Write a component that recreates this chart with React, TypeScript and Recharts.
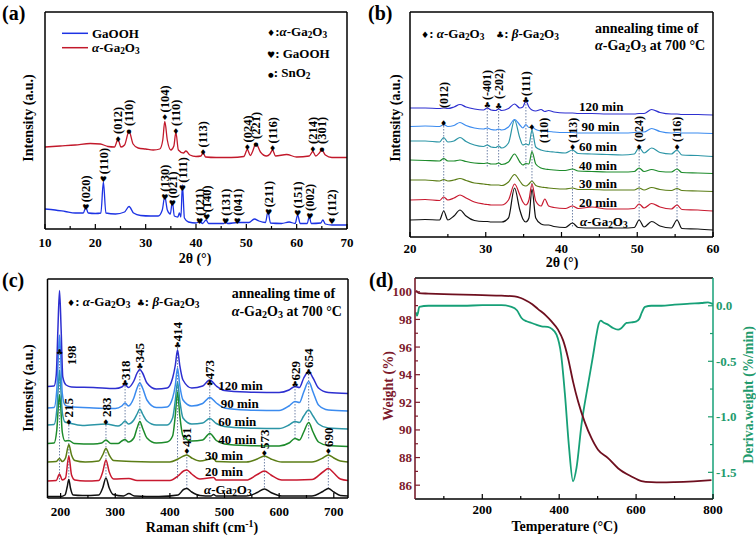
import React from 'react';
import { ComposedChart, Line, XAxis, YAxis, Scatter, ReferenceLine } from 'recharts';

const FONT = '"Liberation Serif", "Times New Roman", Times, serif';
const SYMFONT = '"DejaVu Sans", sans-serif';
const W = 756;
const H = 536;

type P = [number, number];
const pts = (a: P[]) => a.map(([x, y]) => ({ x, y }));
const zipXY = (xs: number[], ys: number[]) => xs.map((x, i) => ({ x, y: ys[i] }));

// ---------------- Panel (a): XRD GaOOH / alpha-Ga2O3 ----------------
const aTicks = [10, 15, 20, 25, 30, 35, 40, 45, 50, 55, 60, 65, 70];
const aLabeled = [10, 20, 30, 40, 50, 60, 70];
const aAlpha: P[] = [
  [10, 82], [13, 83], [16, 84], [19, 85.5], [21, 85], [22.5, 82.5], [23.8, 82], [24.5, 89.5], [25.1, 82],
  [25.8, 84], [26.7, 97.5], [27.5, 85], [28.5, 81], [30, 80], [31.5, 79], [32.8, 80], [33.4, 89], [33.8, 107.5],
  [34.3, 89], [35.0, 79], [35.6, 83], [36.0, 96.5], [36.5, 79], [37.5, 76], [38, 78], [38.8, 74], [40, 72.5],
  [41, 73], [41.4, 76.5], [41.9, 72], [44, 71.5], [47, 71.5], [49.5, 72.5], [50.2, 79.5], [50.8, 73.5], [51.2, 77],
  [51.9, 85.5], [52.8, 77], [54, 73], [54.7, 75], [55.2, 79], [55.8, 73], [58, 74.5], [60, 72], [62.5, 73],
  [63.2, 77.5], [63.8, 73], [64.5, 76], [65.0, 79], [65.7, 74], [67, 71.5], [70, 71.5],
];
const aGaOOH: P[] = [
  [10, 20], [12, 19], [14, 17.5], [16, 16], [17.6, 16], [18.1, 21.5], [18.6, 16], [20, 15.5], [21.1, 16], [21.6, 47],
  [22.1, 16], [24, 15], [25.8, 17], [26.7, 22.5], [27.6, 16], [29, 13.5], [31, 13], [32.5, 13], [33.3, 19], [33.8, 32.5],
  [34.3, 19], [34.9, 15], [35.3, 27.5], [35.7, 13], [36.4, 12], [36.7, 16], [37.0, 12], [37.3, 44], [37.7, 11],
  [38.5, 7], [40, 6], [40.8, 7.5], [41.3, 5.5], [42.0, 9], [42.5, 5.5], [45.5, 5.5], [45.9, 7], [46.3, 5.5],
  [48.3, 6.5], [50.5, 6.5], [51.6, 10], [52.5, 8], [53.8, 6.5], [54.3, 17.5], [54.8, 6], [57, 5.5], [58.5, 7],
  [59.7, 5.5], [60.2, 14], [60.7, 5.5], [62.1, 5.5], [62.5, 12.5], [62.9, 5.5], [64.8, 6], [65.2, 9], [65.7, 5],
  [67, 4], [70, 4],
];
const aPeaks = [
  { x: 24.5, y: 90, s: '♦', t: '(012)', ly: 95 },
  { x: 26.7, y: 98, s: '●', t: '(110)', ly: 103 },
  { x: 33.8, y: 111.5, s: '♦', t: '(104)', ly: 116.5 },
  { x: 36.0, y: 98, s: '♦', t: '(110)', ly: 103 },
  { x: 41.4, y: 76.5, s: '♦', t: '(113)', ly: 81.5 },
  { x: 50.2, y: 81.5, s: '♦', t: '(024)', ly: 86.5 },
  { x: 51.9, y: 85, s: '●', t: '(221)', ly: 90 },
  { x: 55.2, y: 80.5, s: '♦', t: '(116)', ly: 85.5 },
  { x: 63.2, y: 80, s: '♦', t: '(214)', ly: 85 },
  { x: 65.0, y: 80, s: '●', t: '(301)', ly: 85 },
  { x: 18.1, y: 21.7, s: '♥', t: '(020)', ly: 26.7 },
  { x: 21.6, y: 49.7, s: '♥', t: '(110)', ly: 54.7 },
  { x: 33.8, y: 32.3, s: '♥', t: '(130)', ly: 37.3 },
  { x: 35.3, y: 25.7, s: '♥', t: '(021)', ly: 30.7 },
  { x: 37.3, y: 41.3, s: '♥', t: '(111)', ly: 46.3 },
  { x: 40.7, y: 8.3, s: '♥', t: '(121)', ly: 13.3 },
  { x: 42.1, y: 11.7, s: '♥', t: '(140)', ly: 16.7 },
  { x: 45.9, y: 8.3, s: '♥', t: '(131)', ly: 13.3 },
  { x: 48.2, y: 8.3, s: '♥', t: '(041)', ly: 13.3 },
  { x: 54.4, y: 16.7, s: '♥', t: '(211)', ly: 21.7 },
  { x: 60.2, y: 15.7, s: '♥', t: '(151)', ly: 20.7 },
  { x: 62.6, y: 13, s: '♥', t: '(002)', ly: 18 },
  { x: 67.0, y: 8.3, s: '♥', t: '(112)', ly: 13.3 },
];

// ---------------- Panel (b): XRD vs annealing time ----------------
const bTicks = [20, 25, 30, 35, 40, 45, 50, 55, 60];
const bLabeled = [20, 30, 40, 50, 60];
const bX = [20, 22, 23.9, 24.45, 25.0, 25.8, 26.6, 27.4, 28.5, 29.7, 30.2, 30.7, 31.3, 31.7, 32.1, 33.0, 33.8, 34.5,
  34.9, 35.3, 35.7, 36.1, 36.6, 37.3, 37.8, 38.3, 39.0, 40.5, 41.45, 42.2, 44, 46, 48, 49.6, 50.25, 50.9, 51.9, 53.0,
  54.5, 55.25, 55.9, 58, 60];
const bAlpha = [17, 17.5, 17, 26, 17, 21, 27, 21, 16.5, 15.5, 15.5, 15, 15, 15, 15, 19, 49, 27, 18, 15, 19, 48, 19, 13,
  12, 12, 10.5, 9.5, 14, 9.5, 9, 9, 9, 9.5, 17, 10, 15.5, 11, 9, 17, 8.5, 8, 7];
const b20 = [37, 37.5, 36.5, 40, 37, 39, 42, 39, 35, 33, 32.5, 32, 32, 32, 32, 37, 53, 42, 35, 32, 37, 53, 36, 31, 38,
  31, 29.5, 28.5, 31, 28.5, 30, 28, 28, 28.5, 33, 29, 33.5, 30, 28, 32, 27.5, 27, 26];
const b30 = [57, 57, 56, 57.5, 56, 57, 58.5, 56.5, 54, 53, 52.5, 52, 52, 52, 51.5, 55, 62.5, 56, 52, 51, 53, 56, 51.5,
  50, 49.5, 49, 48.5, 48, 49, 47.5, 47.5, 47, 47, 47, 49, 47, 49.5, 47.5, 46.5, 48.5, 46.5, 46, 45.5];
const b40 = [77, 76.5, 76, 78.5, 76, 76, 77, 75.5, 74, 73.5, 74, 73, 73, 74, 72.5, 75, 83, 75, 72, 73.5, 73, 85.5, 73,
  69, 68, 67.5, 67, 66.5, 68, 66, 65.5, 65, 65, 65.5, 69, 65.5, 67.5, 65.5, 65, 68, 64.5, 64, 63.5];
const b60 = [96, 96, 95, 99.5, 95, 96, 99.5, 95.5, 92, 90.5, 92, 90, 89.5, 91, 89, 94, 117, 99, 92, 93, 92, 107, 90, 87,
  86, 85.5, 85, 84, 87, 83.5, 83, 82.5, 82, 83, 89.5, 84, 89, 84.5, 83, 87, 82, 81.5, 80.5];
const b90 = [110.5, 111, 110.5, 112.5, 110.5, 111.5, 114.5, 111.5, 109, 108, 109, 107.5, 107, 108, 107, 110, 117.5, 112,
  109, 112.5, 109.5, 110, 107.5, 106, 105.5, 105.5, 105, 104.5, 104.5, 104, 104, 104, 104, 104.5, 105, 105, 108.5,
  105.5, 104, 104.5, 104, 104, 103.5];
const b120 = [129, 129, 128.5, 129, 128.5, 130, 132.5, 130, 128, 127, 129, 127, 126.5, 128, 126.5, 128.5, 133, 129, 130,
  136, 130, 127, 126, 127.5, 125.5, 126.5, 125, 124, 124, 123.5, 123.5, 123, 123, 123, 123.5, 123.5, 127.5, 124.5, 123,
  123, 122.5, 122.5, 122];
const bSeries = [
  { name: 'α-Ga2O3', ys: bAlpha, color: '#111111' },
  { name: '20 min', ys: b20, color: '#c8192f' },
  { name: '30 min', ys: b30, color: '#5b7d16' },
  { name: '40 min', ys: b40, color: '#1d8b2b' },
  { name: '60 min', ys: b60, color: '#2b95a6' },
  { name: '90 min', ys: b90, color: '#3b8bef' },
  { name: '120 min', ys: b120, color: '#2d2fd0' },
];
const bPeaks = [
  { x: 24.45, y: 114, s: '♦', t: '(012)', ly: 129 },
  { x: 30.2, y: 132, s: '♣', t: '(-401)', ly: 137 },
  { x: 31.7, y: 131.3, s: '♣', t: '(-202)', ly: 138 },
  { x: 35.3, y: 137, s: '♣', t: '(111)', ly: 141 },
  { x: 36.1, y: 110.3, s: '♦', t: '(110)', lx: 37.6, ly: 94 },
  { x: 41.45, y: 90, s: '♦', t: '(113)', ly: 94 },
  { x: 50.25, y: 90.3, s: '♦', t: '(024)', ly: 95 },
  { x: 55.25, y: 90.3, s: '♦', t: '(116)', ly: 95 },
];
const bGuides = [
  { x: 24.45, y1: 111, y2: 26 }, { x: 30.2, y1: 129, y2: 70 }, { x: 31.7, y1: 129, y2: 70 },
  { x: 35.3, y1: 133, y2: 67 }, { x: 36.1, y1: 108, y2: 49 }, { x: 41.45, y1: 87, y2: 10 },
  { x: 50.25, y1: 87, y2: 17 }, { x: 55.25, y1: 87, y2: 17 },
];
const bTimeLabels = ['120 min', '90 min', '60 min', '40 min', '30 min', '20 min'];

// ---------------- Panel (c): Raman ----------------
const cTicks = [200, 250, 300, 350, 400, 450, 500, 550, 600, 650, 700];
const cLabeled = [200, 300, 400, 500, 600, 700];
const cAlpha: P[] = [[176, 1.5], [200, 1.5], [208, 3], [212, 11], [215, 18.5], [218, 10], [223, 3], [240, 2.5], [270, 3],
  [277, 10], [283, 20], [289, 10], [296, 3.5], [315, 2], [325, 4.5], [335, 2], [380, 1.5], [415, 3], [425, 8.5],
  [431, 9.5], [440, 6], [455, 2.5], [475, 2], [480, 3.5], [485, 2], [540, 2], [560, 5.5], [573, 9], [585, 5.5],
  [605, 2], [660, 2], [680, 6.5], [690, 9.5], [700, 6], [712, 2.5], [726, 2]];
const c20: P[] = [[176, 17], [192, 17.5], [198, 24], [203, 18], [209, 20], [215, 42], [220, 23], [226, 18], [245, 17],
  [270, 17.5], [277, 26], [283, 38], [289, 26], [297, 19], [325, 19.5], [340, 17.5], [400, 17.5], [415, 22], [425, 27],
  [431, 28], [440, 24], [455, 19], [480, 20.5], [485, 18], [540, 18], [560, 23.5], [573, 27], [585, 23], [605, 18],
  [660, 18.5], [680, 26], [690, 29.5], [700, 25], [712, 19], [726, 17.5]];
const c30: P[] = [[176, 36], [192, 36.5], [198, 39.5], [203, 36.5], [209, 40], [215, 53.5], [220, 43], [226, 37.5],
  [245, 36], [270, 37], [277, 43], [283, 49.5], [289, 43], [297, 37.5], [330, 36.5], [400, 36], [415, 39], [425, 42],
  [431, 43], [440, 40], [455, 37], [480, 39.5], [485, 36.5], [540, 36], [560, 39], [573, 42], [585, 39], [605, 36],
  [660, 36], [680, 40], [690, 43], [700, 40], [712, 37], [726, 36]];
const c40: P[] = [[176, 54.5], [188, 55], [193, 68], [196, 93], [198, 103], [200, 93], [203, 66], [208, 57], [215, 57.5],
  [225, 54.5], [260, 54], [275, 55], [283, 58], [292, 54.5], [305, 54.5], [312, 57], [318, 58.5], [324, 56], [334, 60],
  [340, 70], [345, 76.5], [350, 70], [358, 60], [375, 55], [395, 56], [405, 62], [410, 83], [414, 106], [418, 83],
  [424, 62], [440, 57], [460, 58], [473, 64.5], [485, 57.5], [500, 54], [540, 52.5], [600, 52], [618, 55], [629, 59.5],
  [637, 58], [645, 66], [654, 75.5], [662, 66], [672, 56], [690, 52.5], [726, 51.5]];
const c60: P[] = [[176, 73], [188, 73.5], [193, 88], [196, 113], [198, 128], [200, 113], [203, 86], [208, 76], [215, 75],
  [240, 72.5], [283, 74], [305, 72], [312, 74], [318, 77], [324, 74], [334, 78], [340, 84], [345, 89], [350, 84],
  [358, 77], [375, 73], [395, 73], [405, 80], [410, 98], [414, 116], [418, 98], [424, 80], [440, 74], [460, 75],
  [473, 79.5], [485, 74.5], [500, 71.5], [540, 70], [600, 69.5], [618, 73], [629, 76.5], [637, 75.5], [645, 82],
  [654, 88], [662, 82], [672, 74], [690, 70], [726, 69]];
const c90: P[] = [[176, 90], [188, 90.5], [193, 108], [196, 143], [198, 163], [200, 143], [203, 105], [208, 93],
  [215, 91.5], [260, 90], [300, 89.5], [312, 92], [318, 95], [324, 92], [334, 100], [340, 110], [345, 115], [350, 110],
  [358, 98], [375, 90.5], [395, 91], [405, 100], [410, 113], [414, 130], [418, 113], [424, 98], [440, 92], [460, 94.5],
  [473, 100.5], [485, 95], [500, 90], [540, 88], [600, 87.5], [618, 92], [629, 96.5], [637, 95.5], [645, 106],
  [654, 116.5], [662, 106], [672, 93], [690, 88], [726, 87]];
const c120: P[] = [[176, 111.5], [188, 112], [192, 123], [195, 168], [198, 207.5], [201, 168], [204, 121], [210, 113],
  [220, 111], [260, 110.5], [300, 109.5], [312, 111], [318, 113.5], [324, 110.5], [334, 117], [340, 125], [345, 128.5],
  [350, 125], [358, 115], [375, 109], [395, 110], [405, 120], [410, 133], [414, 148], [418, 133], [424, 118], [440, 110],
  [460, 112], [473, 118], [485, 112], [500, 107.5], [540, 106], [600, 105.5], [618, 108], [629, 111.5], [637, 110.5],
  [645, 120], [654, 126.5], [662, 120], [672, 110], [690, 105.5], [726, 104.5]];
const cSeries = [
  { name: 'α-Ga2O3', data: cAlpha, color: '#111111' },
  { name: '20 min', data: c20, color: '#c8192f' },
  { name: '30 min', data: c30, color: '#5b7d16' },
  { name: '40 min', data: c40, color: '#1d8b2b' },
  { name: '60 min', data: c60, color: '#2b95a6' },
  { name: '90 min', data: c90, color: '#3b8bef' },
  { name: '120 min', data: c120, color: '#2d2fd0' },
];
const cPeaks = [
  { x: 198, y: 146.3, s: '♣', t: '198', lx: 219, ly: 133 },
  { x: 215, y: 76.3, s: '♦', t: '215', ly: 80.5 },
  { x: 283, y: 76.3, s: '♦', t: '283', ly: 81 },
  { x: 318, y: 114.7, s: '♣', t: '318', ly: 118 },
  { x: 345, y: 132, s: '♣', t: '345', ly: 135.5 },
  { x: 414, y: 153, s: '♣', t: '414', ly: 156.5 },
  { x: 473, y: 114.7, s: '♣', t: '473', ly: 118.5 },
  { x: 629, y: 114, s: '♣', t: '629', ly: 117.5 },
  { x: 654, y: 126.3, s: '♣', t: '654', ly: 130 },
  { x: 431, y: 47, s: '♦', t: '431', ly: 51 },
  { x: 573, y: 45, s: '♦', t: '573', ly: 49 },
  { x: 690, y: 47, s: '♦', t: '690', ly: 51 },
];
const cGuides = [
  { x: 198, y1: 140, y2: 16 }, { x: 215, y1: 73, y2: 18 }, { x: 283, y1: 73, y2: 20 }, { x: 318, y1: 112, y2: 56 },
  { x: 345, y1: 128, y2: 56 }, { x: 414, y1: 150, y2: 18 }, { x: 431, y1: 44, y2: 9 }, { x: 473, y1: 112, y2: 56 },
  { x: 573, y1: 42, y2: 9 }, { x: 629, y1: 112, y2: 58 }, { x: 654, y1: 124, y2: 58 }, { x: 690, y1: 44, y2: 9 },
];

// ---------------- Panel (d): TGA ----------------
const dTicks = [100, 200, 300, 400, 500, 600, 700, 800];
const dLabeled = [200, 400, 600, 800];
const dWTicks = [86, 87, 88, 89, 90, 91, 92, 93, 94, 95, 96, 97, 98, 99, 100];
const dWLabeled = [86, 88, 90, 92, 94, 96, 98, 100];
const dDTicks = [-1.5, -1.25, -1.0, -0.75, -0.5, -0.25, 0];
const dDLabeled = [-1.5, -1.0, -0.5, 0];
const dWeight: P[] = [[28, 100.1], [35, 99.9], [60, 99.87], [100, 99.83], [150, 99.8], [200, 99.76], [250, 99.72],
  [284, 99.67], [300, 99.55], [310, 99.43], [330, 99.1], [345, 98.75], [365, 98.3], [380, 97.86], [397, 97.26],
  [410, 96.5], [423, 95.2], [436, 93.5], [449, 92.07], [466, 90.6], [484, 89.4], [501, 88.56], [527, 87.96],
  [553, 87.23], [588, 86.63], [614, 86.3], [640, 86.22], [666, 86.2], [700, 86.22], [750, 86.28], [796, 86.36]];
const dDeriv: P[] = [[28, -0.06], [30, -0.09], [33, -0.06], [36, -0.01], [60, 0], [100, 0], [150, 0], [200, 0.005],
  [250, 0.005], [276, -0.01], [290, -0.04], [302, -0.11], [315, -0.14], [328, -0.155], [340, -0.17], [354, -0.185],
  [370, -0.19], [380, -0.206], [393, -0.26], [405, -0.44], [415, -0.8], [425, -1.25], [436, -1.58], [445, -1.46],
  [458, -1.07], [475, -0.71], [488, -0.45], [497, -0.26], [503, -0.16], [508, -0.134], [515, -0.15], [527, -0.17],
  [540, -0.2], [553, -0.215], [562, -0.2], [575, -0.155], [588, -0.15], [601, -0.14], [608, -0.12], [615, -0.06],
  [623, -0.01], [640, 0], [666, 0], [700, 0.01], [740, 0.02], [770, 0.025], [787, 0.03], [800, 0.015]];

const MAROON = '#6e0f1f';
const MAROON_T = '#7d1a2c';
const GREEN = '#16a077';
const GREEN_T = '#1f9b6d';
const GUIDE = '#7083a8';

// ---------------- helpers ----------------
const axisLine = { stroke: '#000', strokeWidth: 1.5 };

const bottomTick = (labeled: number[], off: number) => (props: any) => {
  const { x, y, payload } = props;
  const v = payload.value;
  const major = labeled.indexOf(v) >= 0;
  return (
    <g>
      <line x1={x} x2={x} y1={y} y2={y - (major ? 5 : 3)} stroke="#000" strokeWidth={1.2} />
      {major && (
        <text x={x} y={y + off} textAnchor="middle" fontSize={13} fontFamily={FONT} fontWeight={700} fill="#000">
          {v}
        </text>
      )}
    </g>
  );
};

const leftTick = (labeled: number[], fill: string) => (props: any) => {
  const { x, y, payload } = props;
  const v = payload.value;
  const major = labeled.indexOf(v) >= 0;
  return (
    <g>
      <line x1={x} x2={x + (major ? 5 : 3)} y1={y} y2={y} stroke={fill} strokeWidth={1.2} />
      {major && (
        <text x={x - 3} y={y} dy="0.35em" textAnchor="end" fontSize={13} fontFamily={FONT} fontWeight={700} fill={fill}>
          {v}
        </text>
      )}
    </g>
  );
};

const rightTick = (labeled: number[], fill: string) => (props: any) => {
  const { x, y, payload } = props;
  const v = payload.value;
  const major = labeled.indexOf(v) >= 0;
  return (
    <g>
      <line x1={x} x2={x - (major ? 5 : 3)} y1={y} y2={y} stroke={fill} strokeWidth={1.2} />
      {major && (
        <text x={x + 3} y={y} dy="0.35em" textAnchor="start" fontSize={13} fontFamily={FONT} fontWeight={700} fill={fill}>
          {Number(v).toFixed(1)}
        </text>
      )}
    </g>
  );
};

const symSize = (s: string, base: number) => (s === '●' ? base * 0.7 : base);

const markerShape = (fs: number) => (props: any) => {
  const { cx, cy, payload } = props;
  return (
    <text x={cx} y={cy} dy="0.35em" textAnchor="middle" fontSize={symSize(payload.s, fs)} fontFamily={SYMFONT} fill="#000">
      {payload.s}
    </text>
  );
};

const labelShape = (fs: number) => (props: any) => {
  const { cx, cy, payload } = props;
  return (
    <text
      x={cx}
      y={cy}
      dy="0.35em"
      transform={`rotate(-90 ${cx} ${cy})`}
      textAnchor="start"
      fontSize={fs}
      fontFamily={FONT}
      fontWeight={700}
      fill="#000"
    >
      {payload.t}
    </text>
  );
};

type Peak = { x: number; y: number; s: string; t: string; lx?: number; ly: number };
const markerData = (p: Peak[]) => p.map((d) => ({ x: d.x, y: d.y, s: d.s }));
const labelData = (p: Peak[]) => p.map((d) => ({ x: d.lx ?? d.x, y: d.ly, t: d.t }));

// axes are 1px thick bands, so the margins leave room for them
const frame = (box: { l: number; r: number; t: number; b: number }) => ({
  top: box.t - 1,
  left: box.l - 1,
  right: W - box.r - 1,
  bottom: H - box.b - 1,
});

const abs: React.CSSProperties = { position: 'absolute', left: 0, top: 0 };

function PanelA() {
  return (
    <ComposedChart width={W} height={H} margin={frame({ l: 45, r: 347, t: 12, b: 229 })}>
      <XAxis dataKey="x" type="number" domain={[10, 70]} ticks={aTicks} interval={0} tickSize={0} tickMargin={0}
        height={1} tick={bottomTick(aLabeled, 18)} tickLine={false} axisLine={axisLine} allowDataOverflow />
      <XAxis xAxisId="top" orientation="top" type="number" domain={[10, 70]} height={1} tick={false} tickLine={false}
        axisLine={axisLine} />
      <YAxis dataKey="y" type="number" domain={[0, 217]} width={1} tick={false} tickLine={false} axisLine={axisLine}
        allowDataOverflow />
      <YAxis yAxisId="right" orientation="right" type="number" domain={[0, 1]} width={1} tick={false} tickLine={false}
        axisLine={axisLine} />
      <Line data={pts(aGaOOH)} dataKey="y" stroke="#1d33e4" strokeWidth={1.3} dot={false} type="monotone"
        isAnimationActive={false} />
      <Line data={pts(aAlpha)} dataKey="y" stroke="#c2192b" strokeWidth={1.3} dot={false} type="monotone"
        isAnimationActive={false} />
      <Scatter data={markerData(aPeaks)} dataKey="y" shape={markerShape(8)} isAnimationActive={false} />
      <Scatter data={labelData(aPeaks)} dataKey="y" shape={labelShape(12.5)} isAnimationActive={false} />
    </ComposedChart>
  );
}

function PanelB() {
  return (
    <ComposedChart width={W} height={H} margin={frame({ l: 410, r: 713, t: 12, b: 237 })}>
      <XAxis dataKey="x" type="number" domain={[20, 60]} ticks={bTicks} interval={0} tickSize={0} tickMargin={0}
        height={1} tick={bottomTick(bLabeled, 16)} tickLine={false} axisLine={axisLine} allowDataOverflow />
      <XAxis xAxisId="top" orientation="top" type="number" domain={[20, 60]} height={1} tick={false} tickLine={false}
        axisLine={axisLine} />
      <YAxis dataKey="y" type="number" domain={[0, 225]} width={1} tick={false} tickLine={false} axisLine={axisLine}
        allowDataOverflow />
      <YAxis yAxisId="right" orientation="right" type="number" domain={[0, 1]} width={1} tick={false} tickLine={false}
        axisLine={axisLine} />
      {bGuides.map((g, i) => (
        <ReferenceLine key={'g' + i} segment={[{ x: g.x, y: g.y1 }, { x: g.x, y: g.y2 }]} stroke={GUIDE}
          strokeWidth={1} strokeDasharray="1.5 1.5" ifOverflow="visible" />
      ))}
      {bSeries.map((s) => (
        <Line key={s.name} data={zipXY(bX, s.ys)} dataKey="y" name={s.name} stroke={s.color} strokeWidth={1.2}
          dot={false} type="monotone" isAnimationActive={false} />
      ))}
      <Scatter data={markerData(bPeaks)} dataKey="y" shape={markerShape(8)} isAnimationActive={false} />
      <Scatter data={labelData(bPeaks)} dataKey="y" shape={labelShape(12)} isAnimationActive={false} />
    </ComposedChart>
  );
}

function PanelC() {
  return (
    <ComposedChart width={W} height={H} margin={frame({ l: 47.5, r: 348, t: 279, b: 498 })}>
      <XAxis dataKey="x" type="number" domain={[176, 726]} ticks={cTicks} interval={0} tickSize={0} tickMargin={0}
        height={1} tick={bottomTick(cLabeled, 17.5)} tickLine={false} axisLine={axisLine} allowDataOverflow />
      <XAxis xAxisId="top" orientation="top" type="number" domain={[176, 726]} height={1} tick={false} tickLine={false}
        axisLine={axisLine} />
      <YAxis dataKey="y" type="number" domain={[0, 219]} width={1} tick={false} tickLine={false} axisLine={axisLine}
        allowDataOverflow />
      <YAxis yAxisId="right" orientation="right" type="number" domain={[0, 1]} width={1} tick={false} tickLine={false}
        axisLine={axisLine} />
      {cGuides.map((g, i) => (
        <ReferenceLine key={'g' + i} segment={[{ x: g.x, y: g.y1 }, { x: g.x, y: g.y2 }]} stroke={GUIDE}
          strokeWidth={1} strokeDasharray="1.5 1.5" ifOverflow="visible" />
      ))}
      {cSeries.map((s) => (
        <Line key={s.name} data={pts(s.data)} dataKey="y" name={s.name} stroke={s.color} strokeWidth={1.5}
          dot={false} type="monotone" isAnimationActive={false} />
      ))}
      <Scatter data={markerData(cPeaks)} dataKey="y" shape={markerShape(8)} isAnimationActive={false} />
      <Scatter data={labelData(cPeaks)} dataKey="y" shape={labelShape(13)} isAnimationActive={false} />
    </ComposedChart>
  );
}

function PanelD() {
  return (
    <ComposedChart width={W} height={H} margin={frame({ l: 415, r: 713, t: 278, b: 499 })}>
      <XAxis dataKey="x" type="number" domain={[25, 800]} ticks={dTicks} interval={0} tickSize={0} tickMargin={0}
        height={1} tick={bottomTick(dLabeled, 15)} tickLine={false} axisLine={axisLine} allowDataOverflow />
      <XAxis xAxisId="top" orientation="top" type="number" domain={[25, 800]} height={1} tick={false} tickLine={false}
        axisLine={axisLine} />
      <YAxis yAxisId="w" dataKey="y" type="number" domain={[85, 101]} ticks={dWTicks} interval={0} width={1}
        tickSize={0} tickMargin={0} tick={leftTick(dWLabeled, MAROON_T)} tickLine={false}
        axisLine={{ stroke: MAROON, strokeWidth: 1.5 }} allowDataOverflow />
      <YAxis yAxisId="d" orientation="right" dataKey="y" type="number" domain={[-1.74, 0.25]} ticks={dDTicks}
        interval={0} width={1} tickSize={0} tickMargin={0} tick={rightTick(dDLabeled, GREEN_T)} tickLine={false}
        axisLine={{ stroke: GREEN, strokeWidth: 1.5 }} allowDataOverflow />
      <Line yAxisId="d" data={pts(dDeriv)} dataKey="y" name="Deriv. weight" stroke={GREEN} strokeWidth={1.8}
        dot={false} type="monotone" isAnimationActive={false} />
      <Line yAxisId="w" data={pts(dWeight)} dataKey="y" name="Weight" stroke={MAROON} strokeWidth={1.8} dot={false}
        type="monotone" isAnimationActive={false} />
    </ComposedChart>
  );
}

const Chem = ({ g, tail }: { g: string; tail?: string }) => (
  <>
    <tspan fontStyle="italic">{g}</tspan>
    <tspan>-Ga</tspan>
    <tspan fontSize="72%" dy={2}>2</tspan>
    <tspan dy={-2}>O</tspan>
    <tspan fontSize="72%" dy={2}>3</tspan>
    {tail ? <tspan dy={-2}>{tail}</tspan> : null}
  </>
);

const Sym = ({ c }: { c: string }) => (
  <tspan fontFamily={SYMFONT} fontSize={c === '●' ? '50%' : '70%'}>{c}</tspan>
);

type TP = { x: number; y: number; size?: number; anchor?: 'start' | 'middle' | 'end'; rot?: number; fill?: string; children: React.ReactNode };
const T = ({ x, y, size = 13, anchor = 'start', rot, fill = '#000', children }: TP) => (
  <text
    x={x}
    y={y}
    dy="0.35em"
    transform={rot ? `rotate(${rot} ${x} ${y})` : undefined}
    textAnchor={anchor}
    fontSize={size}
    fontFamily={FONT}
    fontWeight={700}
    fill={fill}
  >
    {children}
  </text>
);

function Overlay() {
  const bTimeY = [106.7, 126.7, 146.7, 165, 183.3, 202.3];
  const cTimeY = [385, 403.3, 421.7, 439.3, 455, 471.7];
  const cTimeX = [218.3, 220.7, 218.3, 218.3, 205, 205];
  return (
    <svg width={W} height={H} style={{ ...abs, pointerEvents: 'none' }}>
      {/* panel letters */}
      <T x={2} y={13} size={20}>(a)</T>
      <T x={368} y={13} size={20}>(b)</T>
      <T x={2} y={280} size={20}>(c)</T>
      <T x={369} y={280} size={20}>(d)</T>

      {/* (a) */}
      <T x={28} y={118} size={14} rot={-90} anchor="middle">Intensity (a.u.)</T>
      <T x={195} y={258} size={14} anchor="middle">2θ (°)</T>
      <line x1={62} x2={88} y1={33.3} y2={33.3} stroke="#1d33e4" strokeWidth={1.5} />
      <T x={92} y={33.3}>GaOOH</T>
      <line x1={62} x2={88} y1={47.7} y2={47.7} stroke="#c2192b" strokeWidth={1.5} />
      <T x={92} y={47.7}><Chem g="α" /></T>
      <T x={267} y={31.7}><Sym c="♦" />:<Chem g="α" /></T>
      <T x={267} y={53.3}><Sym c="♥" />: GaOOH</T>
      <T x={268} y={72.7}><Sym c="●" />: SnO<tspan fontSize="72%" dy={2}>2</tspan></T>

      {/* (b) */}
      <T x={395} y={118} size={14} rot={-90} anchor="middle">Intensity (a.u.)</T>
      <T x={562} y={262} size={14} anchor="middle">2θ (°)</T>
      <T x={421} y={33.3}><Sym c="♦" />: <Chem g="α" /></T>
      <T x={496} y={33.3}><Sym c="♣" />: <Chem g="β" /></T>
      <T x={595} y={28.3} size={14}>annealing time of</T>
      <T x={595} y={45} size={14}><Chem g="α" tail=" at 700 °C" /></T>
      {bTimeLabels.map((s, i) => (
        <T key={s} x={i === 1 ? 581.5 : 579} y={bTimeY[i]}>{s}</T>
      ))}
      <T x={580} y={221}><Chem g="α" /></T>

      {/* (c) */}
      <T x={28} y={388} size={14} rot={-90} anchor="middle">Intensity (a.u.)</T>
      <T x={202} y={527.5} size={14} anchor="middle">
        Raman shift (cm<tspan fontSize="70%" dy={-5}>-1</tspan><tspan dy={5}>)</tspan>
      </T>
      <T x={67} y={301.3}><Sym c="♦" />: <Chem g="α" /></T>
      <T x={136.7} y={301.3}><Sym c="♣" />: <Chem g="β" /></T>
      <T x={231.7} y={293} size={14}>annealing time of</T>
      <T x={231.7} y={310.7} size={14}><Chem g="α" tail=" at 700 °C" /></T>
      {bTimeLabels.map((s, i) => (
        <T key={'c' + s} x={cTimeX[i]} y={cTimeY[i]}>{s}</T>
      ))}
      <T x={204} y={489.3}><Chem g="α" /></T>

      {/* (d) */}
      <T x={388} y={386} size={14} rot={-90} anchor="middle" fill={MAROON_T}>Weight (%)</T>
      <T x={748} y={395} size={14} rot={-90} anchor="middle" fill={GREEN_T}>Deriva.weight (%/min)</T>
      <T x={564.7} y={526} size={14} anchor="middle">Temperature (°C)</T>
    </svg>
  );
}

export default function App() {
  return (
    <div style={{ ...abs, width: W, height: H, background: '#fff', overflow: 'hidden' }}>
      <div style={abs}><PanelA /></div>
      <div style={abs}><PanelB /></div>
      <div style={abs}><PanelC /></div>
      <div style={abs}><PanelD /></div>
      <Overlay />
    </div>
  );
}
